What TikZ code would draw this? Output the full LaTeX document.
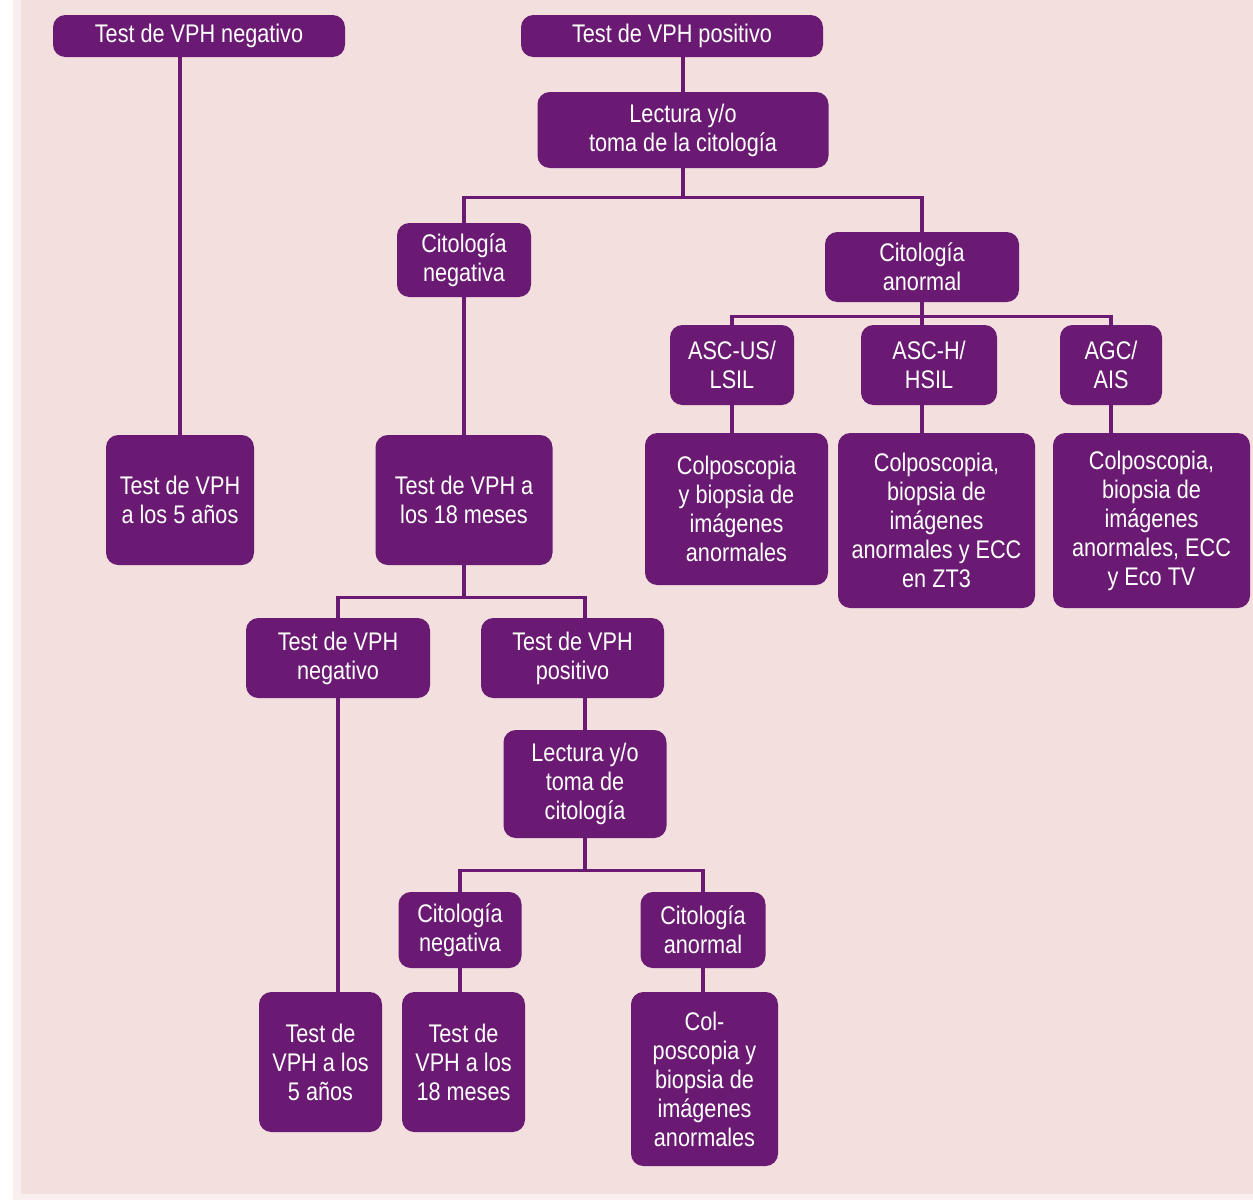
\documentclass[tikz,border=0pt]{standalone}
\usepackage{fontspec}
\setmainfont[FakeStretch=0.85]{Liberation Sans}
\definecolor{vphpurple}{RGB}{106,26,114}
\definecolor{bgpink}{RGB}{242,223,222}

\begin{document}
\begin{tikzpicture}[
  box/.style={rectangle, rounded corners=7pt, fill=vphpurple, text=white, align=center, inner sep=2pt, font=\fontsize{14.5}{16.5}\selectfont},
  link/.style={draw=vphpurple, line width=1.9pt}
]
\useasboundingbox (0,0) rectangle (25.06,-24.06);
\fill[white] (0,0) rectangle (25.06,-24.06);
\fill[bgpink!50] (0.26,0) rectangle (25.06,-24.0);
\fill[bgpink] (0.42,0) rectangle (25.06,-23.88);

\node[box, minimum width=5.84cm, minimum height=0.84cm] (negvph) at (3.98,-0.72) {Test de VPH negativo};
\node[box, minimum width=6.04cm, minimum height=0.84cm] (posvph) at (13.44,-0.72) {Test de VPH positivo};
\node[box, minimum width=5.82cm, minimum height=1.52cm] (lect1) at (13.66,-2.60) {Lectura y/o\\toma de la citología};
\node[box, minimum width=2.68cm, minimum height=1.48cm] (citneg1) at (9.28,-5.20) {Citología\\negativa};
\node[box, minimum width=3.88cm, minimum height=1.40cm] (citanor1) at (18.44,-5.34) {Citología\\anormal};
\node[box, minimum width=2.48cm, minimum height=1.60cm] (ascus) at (14.64,-7.30) {ASC-US/\\LSIL};
\node[box, minimum width=2.72cm, minimum height=1.60cm] (asch) at (18.58,-7.30) {ASC-H/\\HSIL};
\node[box, minimum width=2.04cm, minimum height=1.60cm] (agc) at (22.22,-7.30) {AGC/\\AIS};
\node[box, minimum width=3.66cm, minimum height=3.04cm] (colpo1) at (14.73,-10.18) {Colposcopia\\y biopsia de\\imágenes\\anormales};
\node[box, minimum width=3.94cm, minimum height=3.50cm] (colpo2) at (18.73,-10.41) {Colposcopia,\\biopsia de\\imágenes\\anormales y ECC\\en ZT3};
\node[box, minimum width=3.94cm, minimum height=3.50cm] (colpo3) at (23.03,-10.41) {Colposcopia,\\biopsia de\\imágenes\\anormales, ECC\\y Eco TV};
\node[box, minimum width=2.96cm, minimum height=2.60cm] (test5a) at (3.60,-10.0) {Test de VPH\\a los 5 años};
\node[box, minimum width=3.54cm, minimum height=2.60cm] (test18) at (9.28,-10.0) {Test de VPH a\\los 18 meses};
\node[box, minimum width=3.68cm, minimum height=1.60cm] (vphneg2) at (6.76,-13.16) {Test de VPH\\negativo};
\node[box, minimum width=3.66cm, minimum height=1.60cm] (vphpos2) at (11.45,-13.16) {Test de VPH\\positivo};
\node[box, minimum width=3.26cm, minimum height=2.16cm] (lect2) at (11.70,-15.68) {Lectura y/o\\toma de\\citología};
\node[box, minimum width=2.46cm, minimum height=1.52cm] (citneg2) at (9.20,-18.60) {Citología\\negativa};
\node[box, minimum width=2.50cm, minimum height=1.52cm] (citanor2) at (14.06,-18.60) {Citología\\anormal};
\node[box, minimum width=2.46cm, minimum height=2.80cm] (test5b) at (6.41,-21.24) {Test de\\VPH a los\\5 años};
\node[box, minimum width=2.46cm, minimum height=2.80cm] (test18b) at (9.27,-21.24) {Test de\\VPH a los\\18 meses};
\node[box, minimum width=2.94cm, minimum height=3.48cm] (colpo4) at (14.09,-21.58) {Col-\\poscopia y\\biopsia de\\imágenes\\anormales};

\draw[link] (negvph.south -| test5a.north) -- (test5a.north);
\draw[link] (posvph.south -| lect1.north) -- (lect1.north);
\path (lect1.south) ++(0,-0.58) coordinate (j1);
\draw[link] (lect1.south) -- (j1) -| (citneg1.north);
\draw[link] (j1) -| (citanor1.north);
\draw[link] (citneg1.south) -- (test18.north);
\path (citanor1.south) ++(0,-0.28) coordinate (j2);
\draw[link] (citanor1.south) -- (j2) -| (ascus.north);
\draw[link] (j2) -| (agc.north);
\draw[link] (j2) -- (asch.north -| j2);
\draw[link] (ascus.south) -- (colpo1.north -| ascus.south);
\draw[link] (asch.south -| j2) -- (colpo2.north -| j2);
\draw[link] (agc.south) -- (colpo3.north -| agc.south);
\path (test18.south) ++(0,-0.64) coordinate (j3);
\draw[link] (test18.south) -- (j3) -| (vphneg2.north);
\draw[link] (j3) -| (vphpos2.north -| lect2.north);
\draw[link] (vphneg2.south) -- (test5b.north -| vphneg2.south);
\draw[link] (vphpos2.south -| lect2.north) -- (lect2.north);
\path (lect2.south) ++(0,-0.64) coordinate (j4);
\draw[link] (lect2.south) -- (j4) -| (citneg2.north);
\draw[link] (j4) -| (citanor2.north);
\draw[link] (citneg2.south) -- (test18b.north -| citneg2.south);
\draw[link] (citanor2.south) -- (colpo4.north -| citanor2.south);
\end{tikzpicture}
\end{document}
